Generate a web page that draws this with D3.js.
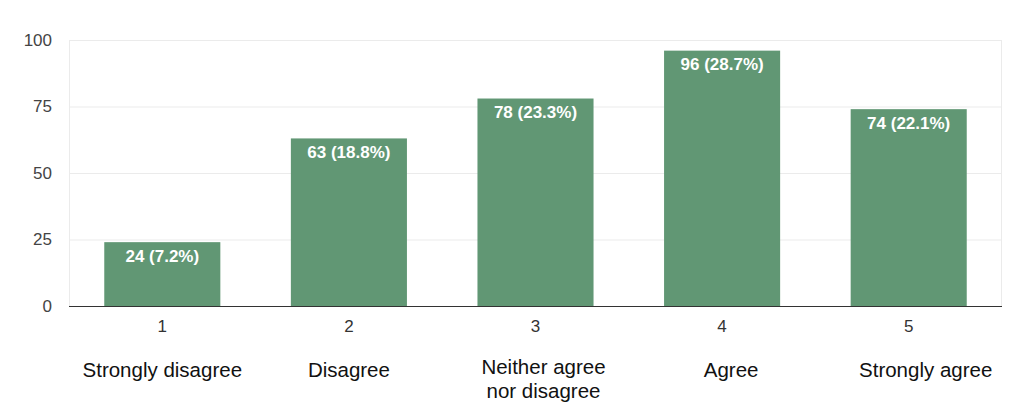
<!DOCTYPE html>
<html><head><meta charset="utf-8">
<script src="https://cdn.jsdelivr.net/npm/d3@7"></script>
<style>body{margin:0;background:#fff;}svg{display:block;font-family:"Liberation Sans",Arial,sans-serif;}</style>
</head><body>
<svg id="c" width="1024" height="417"></svg>
<script>
const categories = ["1","2","3","4","5"];
const labels = [["Strongly disagree"],["Disagree"],["Neither agree","nor disagree"],["Agree"],["Strongly agree"]];
const counts = [24,63,78,96,74];
const percents = ["7.2%","18.8%","23.3%","28.7%","22.1%"];
const yTicks = [0,25,50,75,100];

const svg = d3.select("#c");
const L=69,R=1002,T=40,B=306;
// horizontal nudges of the hand-placed category captions (layout only)
const captionNudge = [0,0,8,9,17];
const x = d3.scaleBand().domain(categories).range([L,R]).paddingInner(0.378).paddingOuter(0.189);
const y = d3.scaleLinear().domain([0,100]).range([B,T]);

// gridlines
svg.append("g").selectAll("line").data(yTicks).join("line")
  .attr("x1",L).attr("x2",R).attr("y1",d=>y(d)+0.5).attr("y2",d=>y(d)+0.5)
  .attr("stroke","#ebebeb").attr("stroke-width",1);
svg.append("line").attr("x1",L+0.5).attr("x2",L+0.5).attr("y1",T).attr("y2",B).attr("stroke","#ebebeb");
svg.append("line").attr("x1",R-0.5).attr("x2",R-0.5).attr("y1",T).attr("y2",B).attr("stroke","#ebebeb");

// y axis labels
const ya = svg.append("g").attr("transform",`translate(${L-17},0)`)
  .call(d3.axisLeft(y).tickValues(yTicks).tickSize(0).tickPadding(0));
ya.select(".domain").remove();
ya.selectAll("text").attr("font-size",17).attr("fill","#444").attr("font-family","Liberation Sans, Arial, sans-serif");

// bars
svg.append("g").selectAll("rect").data(counts).join("rect")
  .attr("x",(d,i)=>x(categories[i])).attr("width",x.bandwidth())
  .attr("y",d=>y(d)).attr("height",d=>B-y(d)).attr("fill","#619774");

// bar labels
svg.append("g").selectAll("text").data(counts).join("text")
  .attr("x",(d,i)=>x(categories[i])+x.bandwidth()/2).attr("y",d=>y(d)+19.5)
  .attr("text-anchor","middle").attr("fill","#fff").attr("font-size",17).attr("font-weight","bold")
  .text((d,i)=>`${d} (${percents[i]})`);

// baseline
svg.append("line").attr("x1",L).attr("x2",R).attr("y1",B+0.5).attr("y2",B+0.5).attr("stroke","#333").attr("stroke-width",1.2);

// x axis
const xa = svg.append("g").attr("transform",`translate(0,${B})`)
  .call(d3.axisBottom(x).tickSize(0).tickPadding(14));
xa.select(".domain").remove();
xa.selectAll("text").attr("font-size",17).attr("fill","#333").attr("font-family","Liberation Sans, Arial, sans-serif");

// category labels
const cg = svg.append("g");
labels.forEach((lines,i)=>{
  const cx = x(categories[i])+x.bandwidth()/2+captionNudge[i];
  const t = cg.append("text").attr("x",cx).attr("text-anchor","middle")
    .attr("font-size",20.5).attr("fill","#111");
  const y0 = lines.length===1 ? 377 : 374;
  lines.forEach((s,j)=>t.append("tspan").attr("x",cx).attr("y",y0+j*24).text(s));
});
</script>
</body></html>
